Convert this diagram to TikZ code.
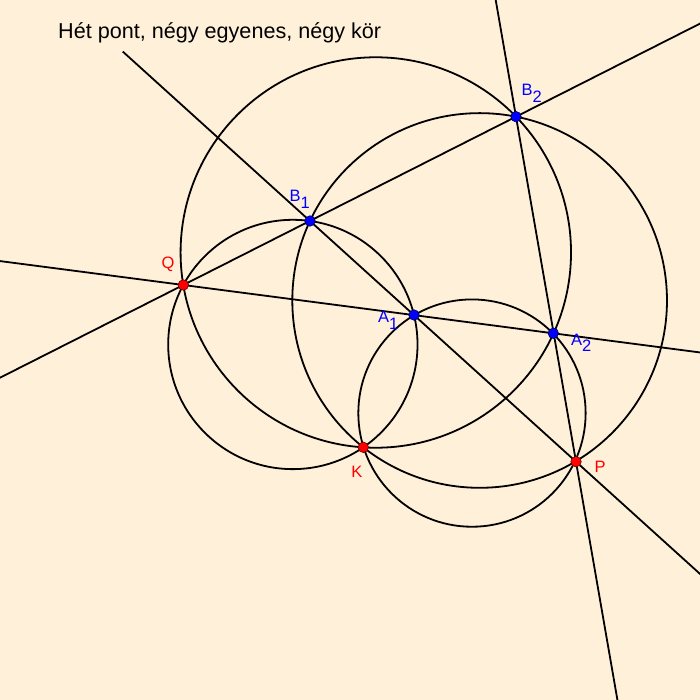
\documentclass[tikz,border=0pt]{standalone}
\usepackage{fontspec}
\setmainfont{Liberation Sans}
\usetikzlibrary{calc,through}
\definecolor{bg}{RGB}{255,240,217}
\definecolor{ptblue}{RGB}{0,0,255}
\definecolor{ptred}{RGB}{255,0,0}
\newcommand\idx[1]{\raisebox{-0.42em}{#1}}
\begin{document}
\begin{tikzpicture}[x=1pt,y=-1pt,
  geo/.style={line width=1.8pt, black},
  circ/.style={draw, line width=1.8pt, black},
  bpt/.style={circle, fill=ptblue, draw=black!70!blue, line width=0.6pt, minimum size=10.5pt, inner sep=0pt},
  rpt/.style={circle, fill=ptred, draw=black!60!red, line width=0.6pt, minimum size=10.5pt, inner sep=0pt},
  lbl/.style={anchor=base west, inner sep=0pt, font=\fontsize{16.5}{19}\selectfont}]
\fill[bg] (0,0) rectangle (700,700);
\useasboundingbox (0,0) rectangle (700,700);
\clip (0,0) rectangle (700,700);
% points
\coordinate (Q) at (183.3,285);
\coordinate (B1) at (310,221);
\coordinate (B2) at (516,116.7);
\coordinate (A1) at (414,315);
\coordinate (A2) at (553.3,333.3);
\coordinate (K) at (363.3,447.3);
\coordinate (P) at (576,461.7);
% lines
\draw[geo] ($(Q)!-2!(B2)$) -- ($(Q)!3!(B2)$);
\draw[geo] ($(Q)!-1!(A2)$) -- ($(Q)!3!(A2)$);
\draw[geo] ($(B2)!-1!(P)$) -- ($(B2)!3!(P)$);
\draw[geo] ($(B1)!-0.704!(P)$) -- ($(B1)!3!(P)$);
% circles
\node[circ, circle through=(Q)] (c1) at (292.85,344.47) {};
\node[circ, circle through=(Q)] (c2) at (375.8,252.5) {};
\node[circ, circle through=(B1)] (c3) at (479.64,300.47) {};
\node[circ, circle through=(A1)] (c4) at (471.97,413.08) {};
% dots
\node[rpt] (pQ) at (Q) {};
\node[bpt] (pB1) at (B1) {};
\node[bpt] (pB2) at (B2) {};
\node[bpt] (pA1) at (A1) {};
\node[bpt] (pA2) at (A2) {};
\node[rpt] (pK) at (K) {};
\node[rpt] (pP) at (P) {};
% labels
\node[lbl, text=ptred] (lQ) at (161.5,268.8) {Q};
\node[lbl, text=ptblue] (lB1) at (289.5,201.7) {B\idx{1}};
\node[lbl, text=ptblue] (lB2) at (521.5,96) {B\idx{2}};
\node[lbl, text=ptblue] (lA1) at (377.8,322.7) {A\idx{1}};
\node[lbl, text=ptblue] (lA2) at (571,345) {A\idx{2}};
\node[lbl, text=ptred] (lK) at (351.2,477) {K};
\node[lbl, text=ptred] (lP) at (594.5,472.7) {P};
% title
\node[anchor=base west, inner sep=0pt, font=\fontsize{21.6}{26}\selectfont] (title) at (58,39) {Hét pont, négy egyenes, négy kör};
\end{tikzpicture}
\end{document}
